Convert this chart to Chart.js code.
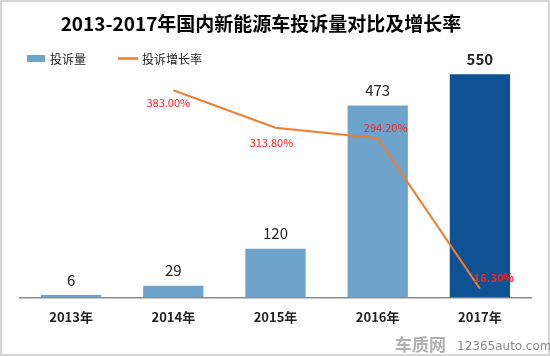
<!DOCTYPE html>
<html><head><meta charset="utf-8">
<script src="https://cdn.jsdelivr.net/npm/chart.js@4"></script>
<style>html,body{margin:0;padding:0;background:#fff}#wrap{width:550px;height:356px;position:relative}</style>
</head><body><div id="wrap"><canvas id="c" width="550" height="356"></canvas></div>
<script>
const categories = ['2013年', '2014年', '2015年', '2016年', '2017年'];
const complaintCounts = [6, 29, 120, 473, 550];
const growthRates = [null, 383.00, 313.80, 294.20, 16.30];
const countLabels = ['6', '29', '120', '473', '550'];
const growthLabels = ['', '383.00%', '313.80%', '294.20%', '16.30%'];
const titleText = '2013-2017年国内新能源车投诉量对比及增长率';
const seriesNames = ['投诉量', '投诉增长率'];

const FONT = '"Noto Sans CJK SC", "Noto Sans", sans-serif';
const lightBlue = '#6ea3cc';
const darkBlue = '#0e5294';
const orange = '#ef7d31';

const decor = {
  id: 'decor',
  beforeDraw(chart) {
    const ctx = chart.ctx;
    ctx.save();
    ctx.fillStyle = '#fff';
    ctx.fillRect(0, 0, chart.width, chart.height);
    ctx.fillStyle = '#000';
    ctx.font = 'bold 19px ' + FONT;
    ctx.textAlign = 'center';
    ctx.textBaseline = 'middle';
    ctx.fillText(titleText, 261, 24);
    ctx.fillStyle = lightBlue;
    ctx.fillRect(27, 55, 18, 7);
    ctx.fillStyle = '#222';
    ctx.font = '12px ' + FONT;
    ctx.textAlign = 'left';
    ctx.fillText(seriesNames[0], 50, 59.5);
    ctx.strokeStyle = orange;
    ctx.lineWidth = 2.5;
    ctx.beginPath(); ctx.moveTo(118, 58.5); ctx.lineTo(138, 58.5); ctx.stroke();
    ctx.fillText(seriesNames[1], 142, 59.5);
    ctx.restore();
  },
  afterDatasetsDraw(chart, args, opts) {
    const ctx = chart.ctx;
    ctx.save();
    ctx.textAlign = 'center';
    ctx.textBaseline = 'middle';
    const barMeta = chart.getDatasetMeta(1);
    barMeta.data.forEach((el, i) => {
      ctx.fillStyle = '#222';
      ctx.font = (i === 4 ? 'bold ' : '') + '15px ' + FONT;
      ctx.fillText(countLabels[i], el.x, el.y - 15);
    });
    const lineMeta = chart.getDatasetMeta(0);
    lineMeta.data.forEach((el, i) => {
      if (growthRates[i] === null) return;
      const off = opts.offsets[i];
      ctx.fillStyle = '#ff2020';
      ctx.font = (i === 4 ? 'bold ' : '') + '11px ' + FONT;
      ctx.fillText(growthLabels[i], el.x + off[0], el.y + off[1]);
    });
    ctx.restore();
  },
  afterDraw(chart) {
    const ctx = chart.ctx;
    ctx.save();
    ctx.strokeStyle = '#d6d6d6';
    ctx.lineWidth = 2;
    ctx.strokeRect(1, 1, chart.width - 2, chart.height - 2);
    ctx.textBaseline = 'middle';
    ctx.textAlign = 'left';
    ctx.fillStyle = '#b0b0b0';
    ctx.font = 'bold 17px ' + FONT;
    ctx.fillText('车质网', 395, 345);
    ctx.fillStyle = '#8a8a8a';
    ctx.font = '12px "DejaVu Sans", sans-serif';
    ctx.fillText('12365auto.com', 457, 347);
    ctx.restore();
  }
};

new Chart(document.getElementById('c'), {
  type: 'bar',
  data: {
    labels: categories,
    datasets: [
      {
        type: 'line',
        label: seriesNames[1],
        data: growthRates,
        yAxisID: 'y2',
        borderColor: orange,
        borderWidth: 2,
        pointRadius: 0,
        tension: 0,
        fill: false,
        order: 0
      },
      {
        type: 'bar',
        label: seriesNames[0],
        data: complaintCounts,
        yAxisID: 'y',
        backgroundColor: [lightBlue, lightBlue, lightBlue, lightBlue, darkBlue],
        barPercentage: 0.59,
        categoryPercentage: 1,
        order: 1
      }
    ]
  },
  options: {
    responsive: false,
    animation: false,
    devicePixelRatio: 1,
    layout: { padding: { left: 20, right: 19, top: 60, bottom: 19 } },
    plugins: {
      legend: { display: false },
      title: { display: false },
      tooltip: { enabled: false },
      decor: { offsets: [[0, 0], [-5, 13], [-4, 15], [8, -10], [14, -11]] }
    },
    scales: {
      x: {
        grid: { display: false, drawTicks: false },
        border: { display: true, color: '#8c8c8c', width: 1.5 },
        ticks: { color: '#222', padding: 12, font: { family: FONT, size: 13, weight: 'bold' } }
      },
      y: { display: false, min: 0, max: 585 },
      y2: { display: false, min: 0, max: 439 }
    }
  },
  plugins: [decor]
});
</script>
</body></html>
